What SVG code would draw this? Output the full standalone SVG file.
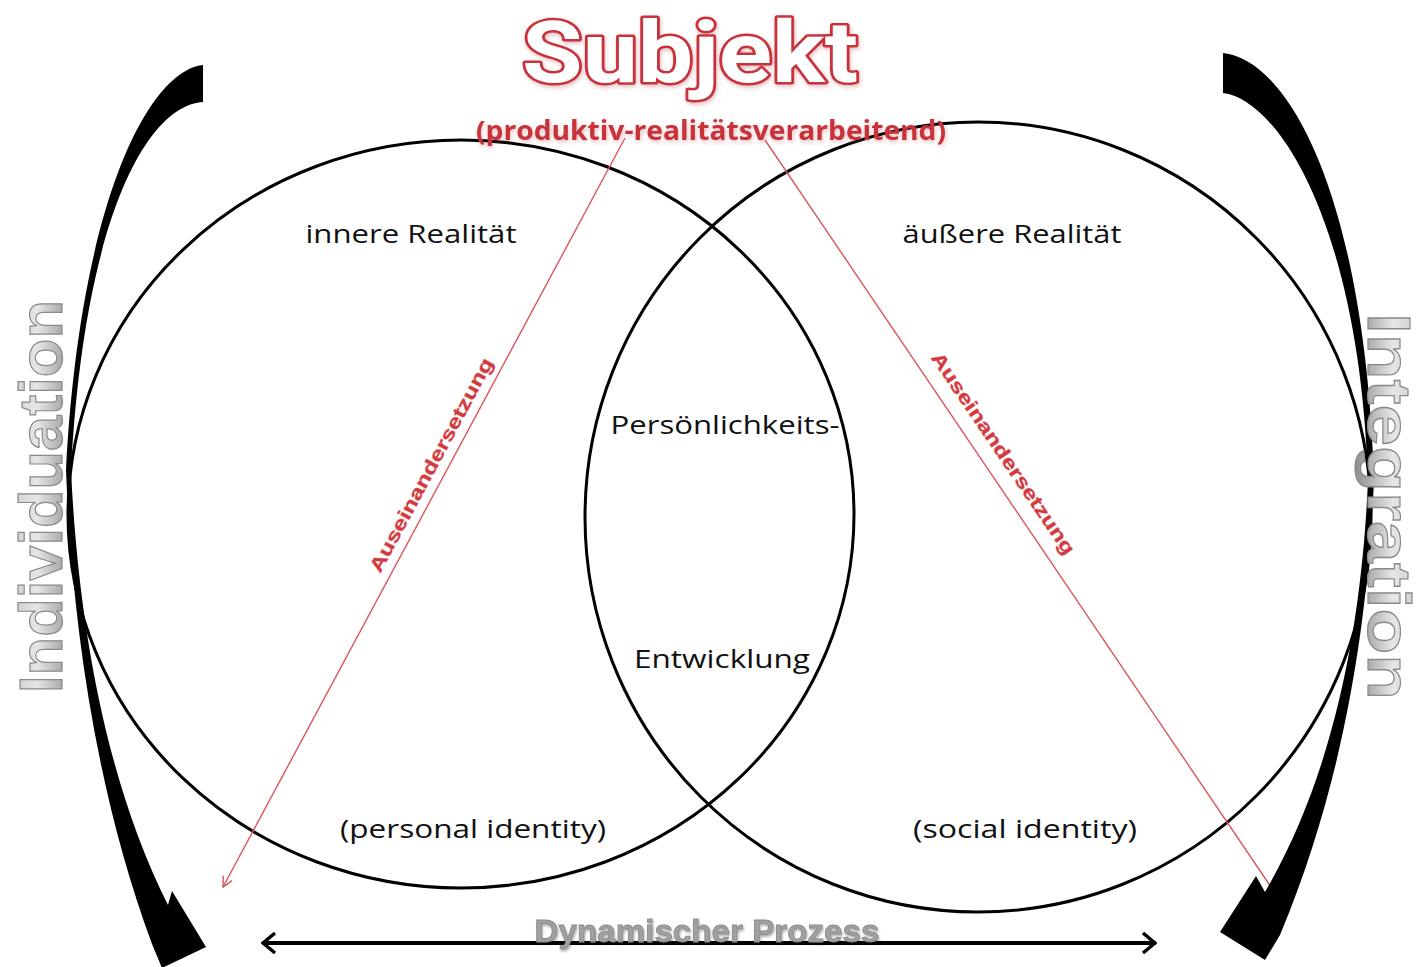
<svg xmlns="http://www.w3.org/2000/svg" width="1425" height="967" viewBox="0 0 1425 967">
  <defs>
    <style>
      .ring { fill: none; stroke: #000; stroke-width: 3; }
      .label { font-family: "Open Sans", "Liberation Sans", sans-serif; font-size: 26px; fill: #111; }
      .red-line { fill: none; stroke: #d9575b; stroke-width: 1.4; }
      .ause { font-family: "Liberation Sans", Arial, sans-serif; font-weight: bold; font-size: 19px; fill: #d23a3f; stroke: #f3c0c0; stroke-width: 0.8; paint-order: stroke; }
      .side { font-family: "Liberation Sans", Arial, sans-serif; font-weight: bold; font-size: 62px; stroke: #8a8a8a; stroke-width: 1.2; }
      .big-arrow { fill: #000; }
    </style>
    <linearGradient id="greyFill" x1="0" y1="0" x2="0" y2="1">
      <stop offset="0" stop-color="#c8c8c8"/>
      <stop offset="0.45" stop-color="#e6e6e6"/>
      <stop offset="1" stop-color="#8c8c8c"/>
    </linearGradient>
    <filter id="soft" x="-10%" y="-30%" width="120%" height="160%">
      <feGaussianBlur in="SourceAlpha" stdDeviation="2"/>
      <feOffset dx="1" dy="2" result="b"/>
      <feFlood flood-color="#b0404a" flood-opacity="0.35"/>
      <feComposite in2="b" operator="in"/>
      <feMerge><feMergeNode/><feMergeNode in="SourceGraphic"/></feMerge>
    </filter>
    <filter id="greyShadow" x="-10%" y="-30%" width="120%" height="160%">
      <feGaussianBlur in="SourceAlpha" stdDeviation="1.2"/>
      <feOffset dx="1" dy="1.5" result="b"/>
      <feFlood flood-color="#000" flood-opacity="0.3"/>
      <feComposite in2="b" operator="in"/>
      <feMerge><feMergeNode/><feMergeNode in="SourceGraphic"/></feMerge>
    </filter>
    <marker id="openHead" viewBox="0 0 12 12" refX="11" refY="6" markerWidth="12" markerHeight="12" markerUnits="userSpaceOnUse" orient="auto">
      <path d="M1 1 L11 6 L1 11" fill="none" stroke="#d9575b" stroke-width="1.4"/>
    </marker>
    <marker id="chevron" viewBox="0 0 16 24" refX="15" refY="12" markerWidth="16" markerHeight="24" markerUnits="userSpaceOnUse" orient="auto-start-reverse">
      <path d="M2 2 L14 12 L2 22" fill="none" stroke="#000" stroke-width="3.5" stroke-linejoin="miter"/>
    </marker>
  </defs>

  <rect width="1425" height="967" fill="#fff"/>

  <!-- the two overlapping realities -->
  <g id="inner-reality">
    <ellipse class="ring" cx="461" cy="514" rx="393" ry="374"/>
    <text class="label" x="411" y="243" text-anchor="middle" textLength="211" lengthAdjust="spacingAndGlyphs">innere Realität</text>
    <text class="label" x="473" y="838" text-anchor="middle" textLength="266" lengthAdjust="spacingAndGlyphs">(personal identity)</text>
  </g>
  <g id="outer-reality">
    <ellipse class="ring" cx="978" cy="517" rx="393" ry="395"/>
    <text class="label" x="1012" y="243" text-anchor="middle" textLength="219" lengthAdjust="spacingAndGlyphs">äußere Realität</text>
    <text class="label" x="1025" y="838" text-anchor="middle" textLength="224" lengthAdjust="spacingAndGlyphs">(social identity)</text>
  </g>
  <g id="personality">
    <text class="label" x="725" y="434" text-anchor="middle" textLength="229" lengthAdjust="spacingAndGlyphs">Persönlichkeits-</text>
    <text class="label" x="722" y="668" text-anchor="middle" textLength="176" lengthAdjust="spacingAndGlyphs">Entwicklung</text>
  </g>

  <!-- subject heading -->
  <g id="subject" filter="url(#soft)">
    <text x="690" y="82" text-anchor="middle" textLength="336" lengthAdjust="spacingAndGlyphs" font-family="Roboto, 'Liberation Sans', sans-serif" font-weight="700" font-size="86" fill="#fff" stroke="#c8323a" stroke-width="5" paint-order="stroke" stroke-linejoin="round">Subjekt</text>
    <text x="711" y="140" text-anchor="middle" textLength="470" lengthAdjust="spacingAndGlyphs" font-family="'Open Sans', 'Liberation Sans', sans-serif" font-weight="700" font-size="26" fill="#c8323a">(produktiv-realitätsverarbeitend)</text>
  </g>

  <!-- connectors -->
  <g id="connectors">
    <line class="red-line" x1="625" y1="138" x2="223" y2="887" marker-end="url(#openHead)"/>
    <line class="red-line" x1="765" y1="140" x2="1271" y2="887"/>
    <text class="ause" transform="translate(437 468) rotate(-61.8)" text-anchor="middle" textLength="240" lengthAdjust="spacingAndGlyphs">Auseinandersetzung</text>
    <text class="ause" transform="translate(998 457) rotate(55.8)" text-anchor="middle" textLength="240" lengthAdjust="spacingAndGlyphs">Auseinandersetzung</text>

    <!-- dynamic process -->
    <line x1="262" y1="943" x2="1156" y2="943" stroke="#000" stroke-width="4" marker-start="url(#chevron)" marker-end="url(#chevron)"/>
  </g>

  <g id="dynamic-process" filter="url(#greyShadow)">
    <text x="707" y="942" text-anchor="middle" textLength="345" lengthAdjust="spacingAndGlyphs" font-family="'Liberation Sans', Arial, sans-serif" font-weight="bold" font-size="31" fill="#a0a0a0" stroke="#8a8a8a" stroke-width="0.8">Dynamischer Prozess</text>
  </g>

  <!-- individuation arrow (left) -->
  <g id="individuation">
    <path class="big-arrow" d="M203 65 C150 70 80 200 66 470 C72 620 95 790 152 944 L162 968 L206 947 L172 891 L168 905 C105 780 78 620 71 470 C85 210 150 105 203 102 Z"/>
    <text class="side" transform="translate(62 693) rotate(-90)" textLength="393" lengthAdjust="spacingAndGlyphs" fill="url(#greyFill)">Individuation</text>
  </g>

  <!-- integration arrow (right) -->
  <g id="integration">
    <path class="big-arrow" d="M1223 53 C1290 60 1365 200 1374 480 C1368 620 1345 780 1280 935 L1265 960 L1220 932 L1256 876 L1265 892 C1336 770 1362 620 1368 480 C1360 230 1280 100 1223 93 Z"/>
    <text class="side" transform="translate(1368 313) rotate(90)" textLength="387" lengthAdjust="spacingAndGlyphs" fill="url(#greyFill)">Integration</text>
  </g>
</svg>
